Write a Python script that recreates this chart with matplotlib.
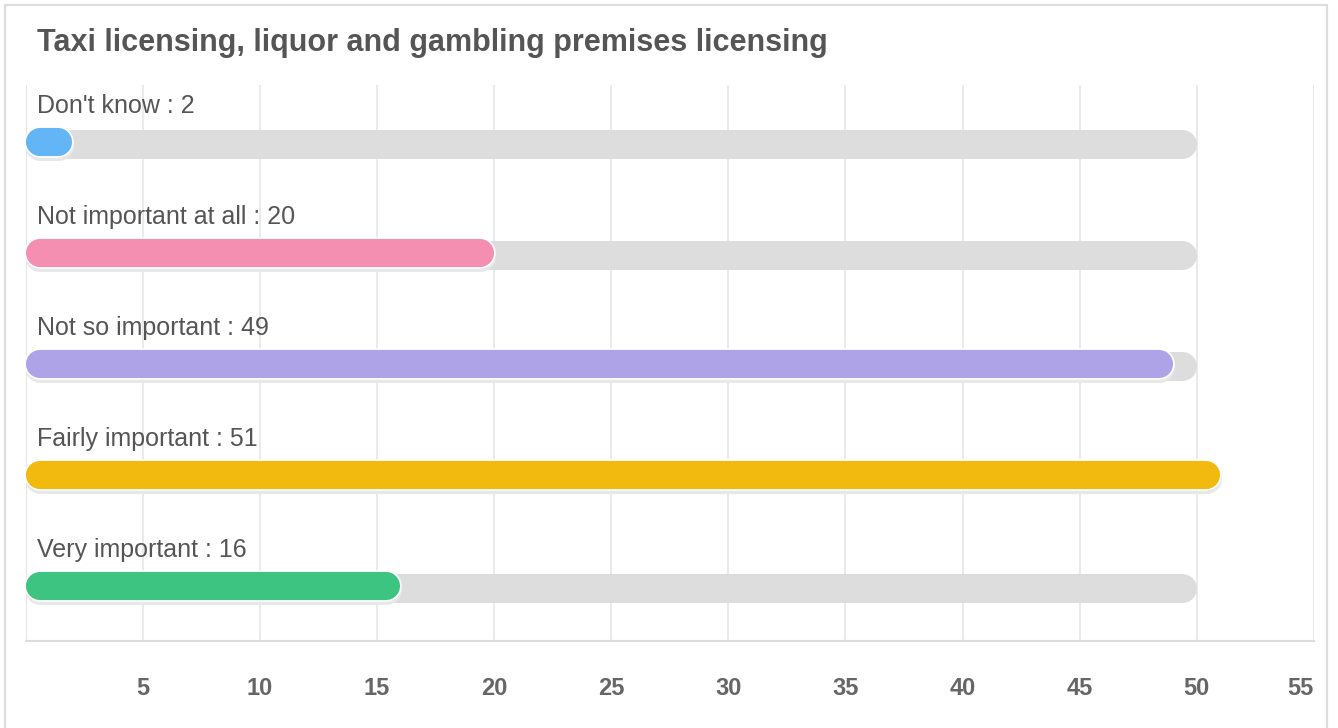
import numpy as np
import matplotlib.pyplot as plt
from matplotlib.patches import Rectangle

plt.rcParams['font.family'] = ['Liberation Sans', 'DejaVu Sans']

title = 'Taxi licensing, liquor and gambling premises licensing'
categories = ["Don't know", 'Not important at all', 'Not so important', 'Fairly important', 'Very important']
values = [2, 20, 49, 51, 16]
colors = ['#64b5f6', '#f48fb1', '#ada3e6', '#f2b90f', '#3ec481']
track_max = 50
ticks = [5, 10, 15, 20, 25, 30, 35, 40, 45, 50, 55]

W, H = 1338, 728
fig = plt.figure(figsize=(W / 100, H / 100), dpi=100)
fig.patch.set_facecolor('white')

# outer frame
fig.add_artist(Rectangle((5 / W, -0.05), (1327 - 5) / W, (H - 5) / H + 0.05,
                         transform=fig.transFigure, fill=False, ec='#dddddd', lw=1.6))
fig.text(37 / W, 1 - 43 / H, title, fontsize=22, fontweight='bold', color='#555555',
         ha='left', va='center')

x0, x1, ytop, ybot = 25.5, 1314, 85, 641
ax = fig.add_axes([x0 / W, 1 - ybot / H, (x1 - x0) / W, (ybot - ytop) / H])
ax.set_xlim(0, 55)
ax.set_ylim(4.48, -0.53)

px_per_unit = (x1 - x0) / 55
bar_px = 29
r = bar_px / 2 / px_per_unit
lw_bar = bar_px * 0.72
px_y = 1 / 111.0  # data y units per pixel

for i, (cat, v, c) in enumerate(zip(categories, values, colors)):
    yc = i + 0.5 * px_y
    ax.plot([r, track_max - r], [yc, yc], color='#dddddd', lw=lw_bar, solid_capstyle='round', zorder=2)
    yb = i - 2 * px_y
    # shadow
    ax.plot([r, v - r], [yb + 3 * px_y, yb + 3 * px_y], color='#e8e8e8', lw=lw_bar + 1.5,
            solid_capstyle='round', zorder=3)
    ax.plot([r, v - r], [yb, yb], color='white', lw=lw_bar + 1.8, solid_capstyle='round', zorder=4)
    ax.plot([r, v - r], [yb, yb], color=c, lw=lw_bar - 0.6, solid_capstyle='round', zorder=5)
    ax.annotate(f'{cat} : {v}', xy=(0, i), xytext=(11.5, 38), textcoords='offset pixels',
                ha='left', va='center', fontsize=18, color='#555555', zorder=6)

ax.set_xticks(ticks)
ax.set_yticks([])
ax.grid(axis='x', color='#e6e6e6', lw=1.2, zorder=0)
for s in ['top', 'right']:
    ax.spines[s].set_visible(False)
ax.spines['left'].set_color('#e6e6e6')
ax.spines['bottom'].set_color('#dddddd')
ax.spines['bottom'].set_linewidth(1.5)
ax.axvline(55, color='#e6e6e6', lw=1.2, zorder=0)
ax.tick_params(axis='x', length=0, pad=26, labelsize=17, labelcolor='#666666')
for lab in ax.get_xticklabels():
    lab.set_fontweight('bold')
labs = ax.get_xticklabels()
labs[-1].set_ha('right')

fig.savefig('out.png', dpi=100)
